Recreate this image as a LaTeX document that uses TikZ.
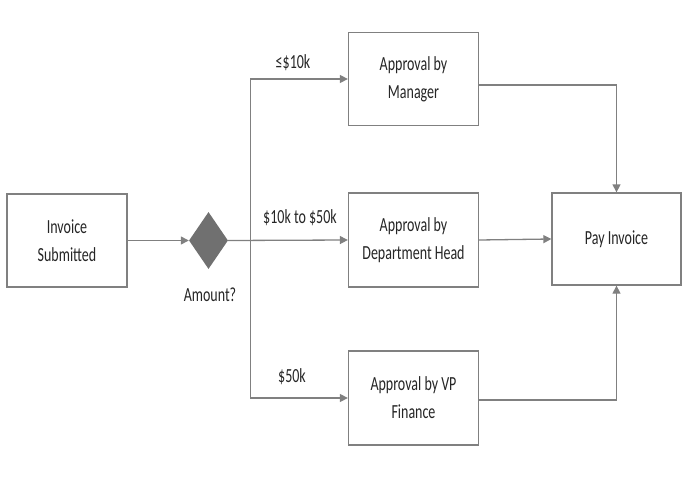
\documentclass[tikz,border=0pt]{standalone}
\usepackage{fontspec}
\setmainfont{Carlito}[FakeStretch=0.7]
\usetikzlibrary{positioning,shapes.geometric,arrows.meta}
\definecolor{linegray}{RGB}{128,128,128}
\definecolor{fillgray}{RGB}{112,112,112}
\definecolor{textgray}{RGB}{38,38,38}
\begin{document}
\begin{tikzpicture}[x=1pt,y=-1pt,
	box/.style={draw=linegray, line width=1.3pt, fill=white, text=textgray, align=center, minimum width=130pt, minimum height=93pt, inner sep=0pt, font=\fontsize{20}{28}\selectfont},
	lbl/.style={text=textgray, inner sep=0pt, font=\fontsize{20}{28}\selectfont},
	link/.style={draw=linegray, line width=1.3pt, -{Triangle[length=8pt,width=8pt]}}]
	\useasboundingbox (0,0) rectangle (700,500);
	\node[box, minimum width=120pt] (inv) at (67,240.5) {Invoice\\Submitted};
	\node[diamond, fill=fillgray, minimum width=39pt, minimum height=57pt, inner sep=0pt] (amt) at (208.5,240.5) {};
	\node[lbl] (amtlbl) at (210,295) {Amount?};
	\node[box] (mgr) at (413.5,79) {Approval by\\Manager};
	\node[box, minimum height=94pt] (dept) at (413.5,240) {Approval by\\Department Head};
	\node[box, minimum height=94pt] (vp) at (413.5,398) {Approval by VP\\Finance};
	\node[box, minimum width=129pt, minimum height=92pt] (pay) at (616.5,239) {Pay Invoice};
	\coordinate (fork) at (250.5,240.5);
	% branches
	\draw[link] (inv) -- (amt);
	\draw[link] (amt.east) -- (dept.west);
	\draw[link] (fork) |- (mgr.west);
	\draw[link] (fork) |- (vp.west);
	\node[lbl] (lowlbl) at (293,63) {≤\$10k};
	\node[lbl] (midlbl) at (300,218) {\$10k to \$50k};
	\node[lbl] (highlbl) at (292,377) {\$50k};
	% to payment
	\draw[link] ([yshift=-6pt]mgr.east) -| (pay.north);
	\draw[link] (dept.east) -- (pay.west);
	\draw[link] ([yshift=-2pt]vp.east) -| (pay.south);
\end{tikzpicture}
\end{document}
